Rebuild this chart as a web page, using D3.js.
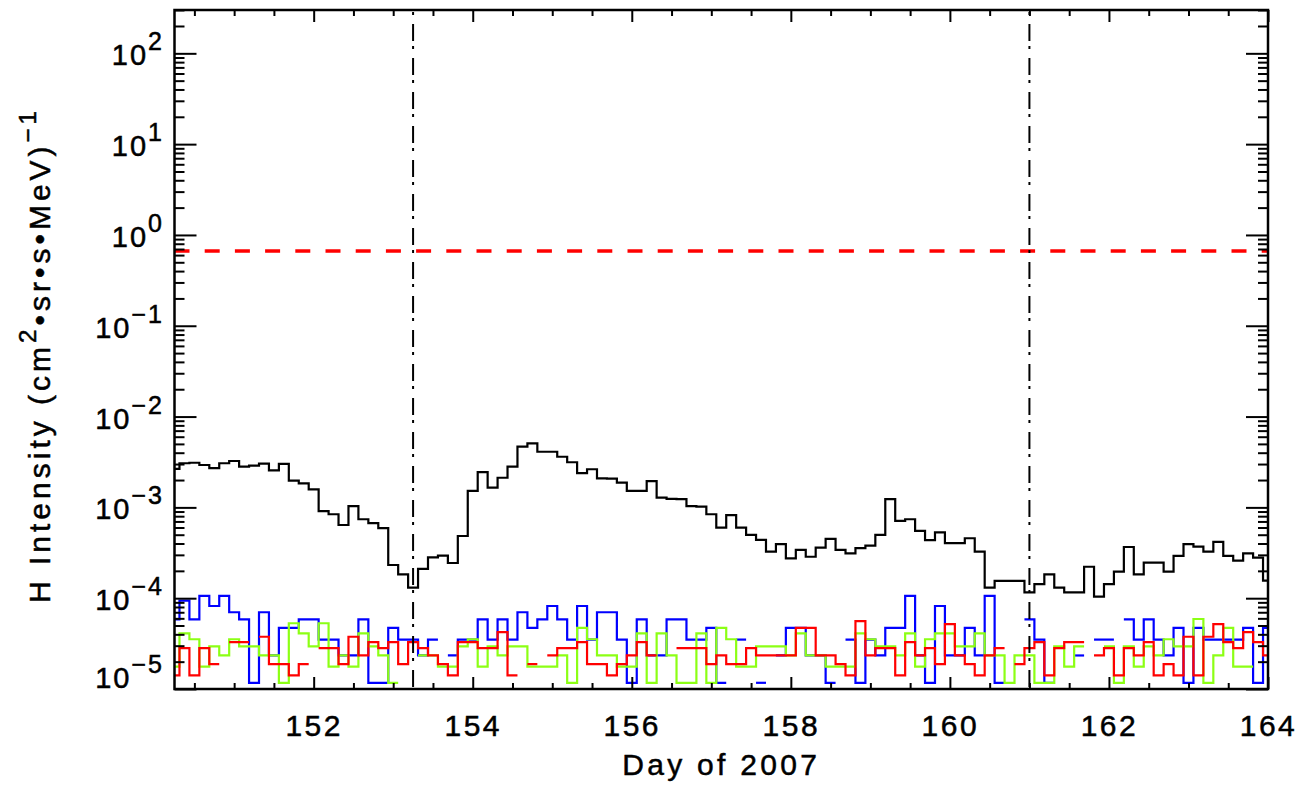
<!DOCTYPE html>
<html>
<head>
<meta charset="utf-8">
<script src="https://cdn.jsdelivr.net/npm/d3@7"></script>
<style>
  body { margin: 0; background: #fff; }
  text { font-family: "Liberation Sans", Arial, sans-serif; fill: #000; stroke: #000; stroke-width: 0.5px; }
</style>
</head>
<body>
<svg id="chart" width="1310" height="786"></svg>
<script>
// H intensity, 3-hour samples starting at day 150.25 (IDL psym=10 style histogram)
const tStart = 150.25;
const tEnd = 164;
const tStep = 0.125;

// black: H intensity (cm^2 sr s MeV)^-1
const hBlack = [
  2.65e-3, 3.06e-3, 3.10e-3, 2.93e-3, 2.70e-3, 3.06e-3, 3.24e-3, 2.81e-3, 2.88e-3, 3.03e-3,
  2.56e-3, 3.01e-3, 1.97e-3, 1.84e-3, 1.58e-3, 9.1e-4, 8.4e-4, 6.4e-4, 1.03e-3, 7.4e-4,
  6.7e-4, 5.9e-4, 2.32e-4, 1.83e-4, 1.31e-4, 2.10e-4, 2.81e-4, 2.95e-4, 2.44e-4, 4.84e-4,
  1.52e-3, 2.44e-3, 1.65e-3, 2.12e-3, 2.81e-3, 4.66e-3, 5.08e-3, 4.10e-3, 4.10e-3, 3.61e-3,
  3.14e-3, 2.38e-3, 2.63e-3, 2.09e-3, 2.07e-3, 1.87e-3, 1.52e-3, 1.52e-3, 1.95e-3, 1.28e-3,
  1.24e-3, 1.23e-3, 1.03e-3, 1.02e-3, 8.4e-4, 6.0e-4, 8.2e-4, 6.0e-4, 4.97e-4, 4.38e-4,
  3.25e-4, 3.93e-4, 2.75e-4, 3.40e-4, 2.86e-4, 3.60e-4, 4.49e-4, 3.40e-4, 3.12e-4, 3.55e-4,
  3.79e-4, 4.97e-4, 1.23e-3, 7.1e-4, 7.4e-4, 5.5e-4, 4.35e-4, 5.3e-4, 4.03e-4, 4.03e-4,
  4.57e-4, 3.25e-4, 1.31e-4, 1.55e-4, 1.55e-4, 1.55e-4, 1.16e-4, 1.43e-4, 1.83e-4, 1.31e-4,
  1.16e-4, 1.16e-4, 2.22e-4, 1.04e-4, 1.43e-4, 1.96e-4, 3.66e-4, 1.83e-4, 2.46e-4, 2.46e-4,
  1.96e-4, 2.92e-4, 3.93e-4, 3.69e-4, 3.25e-4, 4.16e-4, 2.92e-4, 2.59e-4, 3.12e-4, 2.79e-4, 1.56e-4
];

// coloured channels, in units of 1e-5 (null = nothing plotted)
const UNIT = 1e-5;
const hBlue = [
  5.85, 9.4, 5.85, 10.6, 8.2, 10.6, 7.0, 5.85, 1.17, 7.0,
  2.34, 4.7, 4.7, 5.85, 5.85, 3.5, 3.5, 2.34, 2.34, 5.85,
  1.17, 1.17, 4.7, 3.5, 3.5, 2.34, 3.5, null, 2.34, 3.5,
  3.5, 5.85, 3.5, 5.85, 3.5, 7.0, 4.7, 5.85, 8.2, 5.85,
  3.5, 8.2, 3.5, 7.0, 7.0, 3.5, 1.17, 5.85, 2.34, 2.34,
  5.85, 5.85, 3.5, 3.5, 4.7, 1.17, null, 3.5, null, 1.17,
  null, 2.34, 4.7, 4.7, 2.34, 2.34, 1.17, null, 3.5, 1.17,
  3.5, 2.34, 4.7, 4.7, 10.6, 2.34, 1.17, 8.2, 2.34, 2.34,
  4.7, 2.34, 10.6, 1.17, null, null, 5.85, 3.5, 1.17, null,
  null, 2.34, null, 3.5, 3.5, null, 5.85, 3.5, 5.85, 3.5,
  2.34, 4.7, 1.17, 4.7, 3.5, 3.5, 3.5, 3.5, 4.7, 1.17, 4.7
];
const hGreen = [
  1.76, 4.1, 3.53, 1.76, 2.94, 2.35, 3.53, 2.94, 2.94, 2.35,
  2.35, 1.17, 5.3, 4.1, 2.94, 5.3, 1.76, 2.35, 1.76, 4.1,
  2.94, 2.35, 1.17, null, null, 2.35, 2.35, 1.76, 1.76, 2.94,
  3.53, 1.76, 2.94, 2.35, 2.94, 2.94, 1.76, 1.76, 1.76, 2.35,
  1.17, 4.7, 3.53, 2.35, 2.35, 1.76, 1.76, 4.1, 1.17, 4.1,
  2.35, 1.17, 1.17, 4.1, 1.17, 4.7, 3.53, 1.76, 1.76, 2.94,
  2.94, 2.94, 2.35, 4.1, 2.35, 2.35, 1.76, 1.76, 1.76, 4.1,
  3.53, 2.94, 2.94, 2.35, 4.1, 1.76, 3.53, 4.1, 4.1, 2.94,
  2.94, 4.1, 2.35, 2.35, 1.17, 2.35, 2.35, 1.17, 1.17, 2.94,
  1.76, 2.94, null, null, 2.94, 1.17, 2.94, 1.76, 2.94, 2.35,
  3.53, 2.94, 2.94, 5.9, 1.17, 2.35, 4.7, 1.76, 1.76, null, null
];
const hRed = [
  1.41, 2.82, 1.41, 2.82, 1.88, null, 3.29, 3.29, null, 3.76,
  1.88, 1.88, 1.41, 1.88, null, 2.82, 2.82, 1.88, 3.76, 2.35,
  3.29, 2.82, 3.29, 1.88, 3.29, 2.82, 2.35, 1.88, 1.41, 3.29,
  3.29, 2.82, 2.82, 4.23, 1.41, null, 1.88, null, 2.35, 2.82,
  2.82, 3.29, 1.88, 1.88, 1.41, 1.88, 2.35, 3.29, 2.35, null,
  null, 2.82, 2.82, 2.82, 1.88, 2.35, 1.88, 1.88, 2.82, 2.35,
  2.35, 2.35, 2.35, 4.7, 4.7, 2.35, 2.35, 1.88, 1.41, 5.6,
  2.35, 2.82, 2.82, 1.41, 3.29, 2.35, 2.82, 1.88, 5.17, 2.35,
  1.88, 1.41, 2.35, 2.82, null, 1.88, 2.82, 3.29, 1.41, 2.82,
  3.29, 3.29, null, 2.35, 2.82, 1.41, 2.82, 2.35, 3.29, 1.41,
  1.88, 1.41, 3.76, 1.41, 3.76, 5.17, 3.29, 2.82, 4.23, 3.29, 2.35
];

const thresholdLevel = 0.667;        // red dashed line
const eventDays = [153.25, 161.0];   // dash-dot markers
const xMajorTicks = [152, 154, 156, 158, 160, 162, 164];
const yDecades = [-5, -4, -3, -2, -1, 0, 1, 2];

const svg = d3.select('#chart');
const pLeft = 174.5, pRight = 1268, pTop = 10, pBottom = 689;

const x = d3.scaleLinear().domain([tStart, tEnd]).range([pLeft, pRight]);
const y = d3.scaleLog().domain([1e-5, 300]).range([pBottom, pTop]);

// plot area clip
svg.append('clipPath').attr('id', 'clip')
  .append('rect')
  .attr('x', pLeft).attr('y', pTop)
  .attr('width', pRight - pLeft).attr('height', pBottom - pTop);

const plot = svg.append('g').attr('clip-path', 'url(#clip)');

// histogram runs: each sample covers [t - step/2, t + step/2], first/last halved
function stepRuns(vals, scale) {
  const runs = [];
  let cur = null;
  vals.forEach((v, k) => {
    if (v == null) { cur = null; return; }
    const t = tStart + k * tStep;
    const l = Math.max(t - tStep / 2, tStart);
    const r = Math.min(t + tStep / 2, tEnd);
    const val = v * scale;
    if (!cur) { cur = []; runs.push(cur); }
    else cur.pop();
    cur.push([l, val]);
    cur.push([r, val]);
  });
  return runs;
}

const line = d3.line()
  .x(d => x(d[0]))
  .y(d => y(d[1]))
  .curve(d3.curveStepAfter);

function drawSeries(vals, scale, color) {
  plot.append('g')
    .selectAll('path')
    .data(stepRuns(vals, scale))
    .join('path')
    .attr('d', line)
    .attr('fill', 'none')
    .attr('stroke', color)
    .attr('stroke-width', 2.2)
    .attr('stroke-linejoin', 'miter');
}

drawSeries(hBlack, 1, '#000');
drawSeries(hBlue, UNIT, '#0000ff');
drawSeries(hGreen, UNIT, '#8cff14');
drawSeries(hRed, UNIT, '#ff0000');

// red dashed threshold
plot.append('line')
  .attr('x1', pLeft).attr('x2', pRight)
  .attr('y1', y(thresholdLevel)).attr('y2', y(thresholdLevel))
  .attr('stroke', '#ff0000')
  .attr('stroke-width', 3.5)
  .attr('stroke-dasharray', '15,15.2');

// dash-dot event lines
plot.selectAll('.event')
  .data(eventDays)
  .join('line')
  .attr('class', 'event')
  .attr('x1', d => x(d)).attr('x2', d => x(d))
  .attr('y1', pTop).attr('y2', pBottom)
  .attr('stroke', '#000')
  .attr('stroke-width', 2)
  .attr('stroke-dasharray', '17,5,3,9')
  .attr('stroke-dashoffset', -14);

// ---- axes (IDL box style, ticks inward) ----
const xMinor = d3.range(150.5, 164, 0.5).filter(d => d % 2 !== 0);
const yMajor = yDecades.map(e => Math.pow(10, e));
const yMinor = [];
yDecades.forEach(e => {
  for (let m = 2; m <= 9; m++) {
    const v = m * Math.pow(10, e);
    if (v <= 300) yMinor.push(v);
  }
});

function tickAxis(axis, transform) {
  const g = svg.append('g').attr('transform', transform).call(axis);
  g.select('.domain').remove();
  g.selectAll('.tick line').attr('stroke', '#000').attr('stroke-width', 2);
  return g;
}

const xb = tickAxis(d3.axisBottom(x).tickValues(xMajorTicks).tickSize(-12)
  .tickPadding(26).tickFormat(d3.format('d')), `translate(0,${pBottom})`);
xb.selectAll('.tick text')
  .attr('font-size', 30)
  .attr('letter-spacing', 2.5)
  .attr('font-family', '"Liberation Sans", Arial, sans-serif');
tickAxis(d3.axisBottom(x).tickValues(xMinor).tickSize(-6).tickFormat(''), `translate(0,${pBottom})`);
tickAxis(d3.axisTop(x).tickValues(xMajorTicks).tickSize(-12).tickFormat(''), `translate(0,${pTop})`);
tickAxis(d3.axisTop(x).tickValues(xMinor).tickSize(-6).tickFormat(''), `translate(0,${pTop})`);

tickAxis(d3.axisLeft(y).tickValues(yMajor).tickSize(-22).tickFormat(''), `translate(${pLeft},0)`);
tickAxis(d3.axisLeft(y).tickValues(yMinor).tickSize(-10).tickFormat(''), `translate(${pLeft},0)`);
tickAxis(d3.axisRight(y).tickValues(yMajor).tickSize(-22).tickFormat(''), `translate(${pRight},0)`);
tickAxis(d3.axisRight(y).tickValues(yMinor).tickSize(-10).tickFormat(''), `translate(${pRight},0)`);

// frame
svg.append('rect')
  .attr('x', pLeft).attr('y', pTop)
  .attr('width', pRight - pLeft).attr('height', pBottom - pTop)
  .attr('fill', 'none')
  .attr('stroke', '#000')
  .attr('stroke-width', 2.5);

// y tick labels 10^n
const yLab = svg.append('g').attr('class', 'ylabels');
yDecades.forEach(e => {
  const yy = Math.min(y(Math.pow(10, e)) + 12, pBottom - 1);
  const t = yLab.append('text')
    .attr('x', 164)
    .attr('y', yy)
    .attr('text-anchor', 'end')
    .attr('font-size', 29)
    .attr('letter-spacing', 2);
  t.append('tspan').text('10');
  t.append('tspan')
    .attr('dy', -15)
    .attr('font-size', 25)
    .text(e < 0 ? '\u2212' + Math.abs(e) : String(e));
});

// axis titles
svg.append('text')
  .attr('x', (pLeft + pRight) / 2)
  .attr('y', 775)
  .attr('text-anchor', 'middle')
  .attr('font-size', 30)
  .attr('letter-spacing', 3.3)
  .text('Day of 2007');

const yt = svg.append('text')
  .attr('transform', 'translate(50,355) rotate(-90)')
  .attr('text-anchor', 'middle')
  .attr('font-size', 30)
  .attr('letter-spacing', 4);
yt.append('tspan').text('H Intensity (cm');
yt.append('tspan').attr('dy', -14).attr('font-size', 24).text('2');
yt.append('tspan').attr('dy', 14).text('\u2022sr\u2022s\u2022MeV)');
yt.append('tspan').attr('dy', -14).attr('font-size', 24).text('\u22121');
</script>
</body>
</html>
